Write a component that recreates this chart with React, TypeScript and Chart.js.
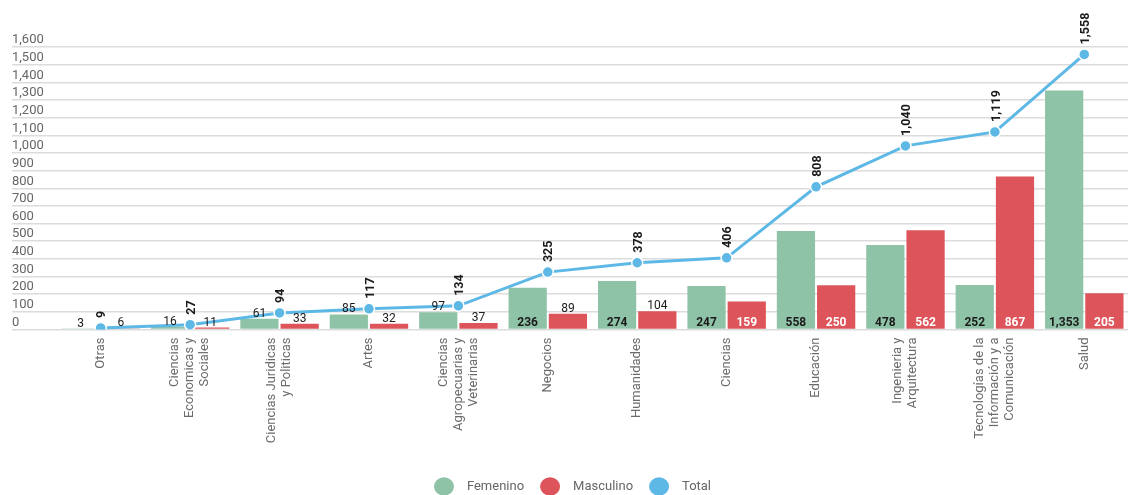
import React, { useEffect, useRef } from 'react';
import { Chart, registerables } from 'chart.js';

Chart.register(...registerables);

const categories: string[][] = [
  ['Otras'],
  ['Ciencias', 'Economicas y', 'Sociales'],
  ['Ciencias Juridicas', 'y Politicas'],
  ['Artes'],
  ['Ciencias', 'Agropecuarias y', 'Veterinarias'],
  ['Negocios'],
  ['Humanidades'],
  ['Ciencias'],
  ['Educación'],
  ['Ingenieria y', 'Arquitectura'],
  ['Tecnologías de la', 'Información y a', 'Comunicación'],
  ['Salud'],
];

const femenino = [3, 16, 61, 85, 97, 236, 274, 247, 558, 478, 252, 1353];
const masculino = [6, 11, 33, 32, 37, 89, 104, 159, 250, 562, 867, 205];
const total = [9, 27, 94, 117, 134, 325, 378, 406, 808, 1040, 1119, 1558];

const seriesNames = ['Femenino', 'Masculino', 'Total'];
const yMin = 0;
const yMax = 1600;
const yStep = 100;

const GREEN = '#8FC3A7';
const RED = '#DD545A';
const BLUE = '#5DB8E6';

const fmt = (v: number) => v.toLocaleString('en-US');

const valueLabels = {
  id: 'valueLabels',
  afterDatasetsDraw(chart: any) {
    const ctx = chart.ctx as CanvasRenderingContext2D;
    ctx.save();
    [0, 1].forEach((di) => {
      const meta = chart.getDatasetMeta(di);
      meta.data.forEach((el: any, i: number) => {
        const v = chart.data.datasets[di].data[i] as number;
        const { x, y, base } = el.getProps(['x', 'y', 'base'], true);
        const h = base - y;
        ctx.textAlign = 'center';
        ctx.textBaseline = 'alphabetic';
        if (h >= 18) {
          ctx.font = 'bold 12px Roboto';
          ctx.fillStyle = di === 0 ? '#1b1b1b' : '#ffffff';
          ctx.fillText(fmt(v), x, base - 3);
        } else {
          ctx.font = '12px Roboto';
          ctx.fillStyle = '#1b1b1b';
          ctx.fillText(fmt(v), x, y - 2);
        }
      });
    });
    const lmeta = chart.getDatasetMeta(2);
    lmeta.data.forEach((el: any, i: number) => {
      const v = chart.data.datasets[2].data[i] as number;
      ctx.save();
      ctx.translate(el.x, el.y - 10);
      ctx.rotate(-Math.PI / 2);
      ctx.textAlign = 'left';
      ctx.textBaseline = 'middle';
      ctx.font = 'bold 12.5px Roboto';
      ctx.fillStyle = '#1b1b1b';
      ctx.fillText(fmt(v), 0, 1.5);
      ctx.restore();
    });
    ctx.restore();
  },
};

const xLabels = {
  id: 'xLabels',
  afterDraw(chart: any) {
    const xs = chart.scales.x;
    const ctx = chart.ctx as CanvasRenderingContext2D;
    ctx.save();
    ctx.font = '13px Roboto';
    ctx.fillStyle = '#6b6b6b';
    ctx.textAlign = 'right';
    ctx.textBaseline = 'middle';
    const lh = 15;
    categories.forEach((lines, i) => {
      const x = xs.getPixelForValue(i);
      ctx.save();
      ctx.translate(x, xs.top + 8);
      ctx.rotate(-Math.PI / 2);
      lines.forEach((ln, j) => {
        ctx.fillText(ln, 0, (j - (lines.length - 1) / 2) * lh);
      });
      ctx.restore();
    });
    ctx.restore();
  },
};

export default function App() {
  const ref = useRef<HTMLCanvasElement | null>(null);

  useEffect(() => {
    if (!ref.current) return;
    Chart.defaults.font.family = 'Roboto';
    Chart.defaults.color = '#666666';
    const chart = new Chart(ref.current, {
      type: 'bar',
      data: {
        labels: categories.map((c) => c.join(' ')),
        datasets: [
          {
            type: 'bar',
            label: seriesNames[0],
            data: femenino,
            backgroundColor: GREEN,
            borderWidth: 0,
            categoryPercentage: 0.9,
            barPercentage: 0.95,
            order: 1,
          },
          {
            type: 'bar',
            label: seriesNames[1],
            data: masculino,
            backgroundColor: RED,
            borderWidth: 0,
            categoryPercentage: 0.9,
            barPercentage: 0.95,
            order: 1,
          },
          {
            type: 'line',
            label: seriesNames[2],
            data: total,
            borderColor: BLUE,
            backgroundColor: BLUE,
            borderWidth: 3,
            pointRadius: 5.5,
            pointBackgroundColor: BLUE,
            pointBorderColor: '#ffffff',
            pointBorderWidth: 1.5,
            tension: 0,
            order: 0,
          } as any,
        ],
      },
      options: {
        responsive: false,
        animation: false,
        layout: { padding: { left: 12, right: 3, top: 47, bottom: 0 } },
        scales: {
          x: {
            ticks: { display: false },
            grid: { display: false },
            border: { display: false },
            afterFit: (s: any) => {
              s.height = 134.5;
            },
          },
          y: {
            min: yMin,
            max: yMax,
            ticks: {
              stepSize: yStep,
              autoSkip: false,
              crossAlign: 'far',
              labelOffset: -7,
              padding: 0,
              color: '#666666',
              font: { size: 13 },
              callback: (v: any) => fmt(Number(v)),
            },
            grid: { color: '#dcdcdc', lineWidth: 1.5, tickLength: 44, drawTicks: true },
            border: { display: false },
            afterFit: (s: any) => {
              s.width = 44;
            },
          },
        },
        plugins: {
          tooltip: { enabled: false },
          legend: {
            position: 'bottom',
            labels: {
              usePointStyle: true,
              pointStyle: 'circle',
              pointStyleWidth: 20,
              boxHeight: 13,
              padding: 16,
              color: '#666666',
              font: { size: 13 },
              generateLabels: (c: any) => {
                const items = (Chart.defaults.plugins.legend.labels as any).generateLabels(c);
                return items
                  .sort((a: any, b: any) => a.datasetIndex - b.datasetIndex)
                  .map((it: any) => ({ ...it, text: '  ' + it.text, lineWidth: 0, pointStyle: 'circle' }));
              },
            },
          },
        },
      } as any,
      plugins: [valueLabels, xLabels],
    });
    return () => chart.destroy();
  }, []);

  return (
    <div
      style={{
        position: 'fixed',
        left: 0,
        top: 0,
        width: '1128px',
        height: '495px',
        overflow: 'hidden',
        background: '#ffffff',
      }}
    >
      <canvas ref={ref} width={1136} height={503} style={{ display: 'block' }} />
    </div>
  );
}
